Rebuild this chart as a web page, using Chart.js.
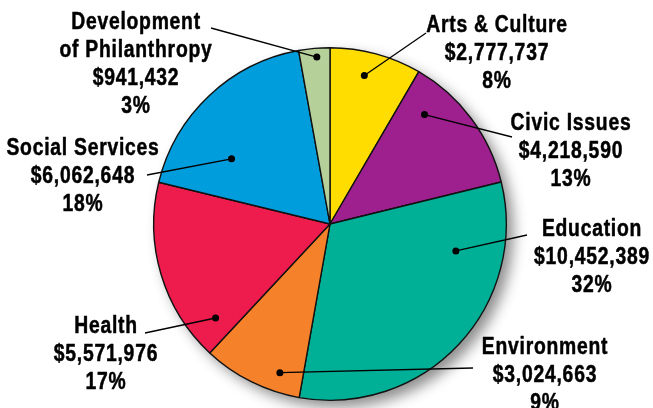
<!DOCTYPE html>
<html>
<head>
<meta charset="utf-8">
<script src="https://cdn.jsdelivr.net/npm/chart.js@4"></script>
<style>
html,body{margin:0;padding:0;background:#fff;}
#wrap{width:653px;height:408px;position:relative;}
</style>
</head>
<body>
<div id="wrap"><canvas id="c" width="653" height="408"></canvas></div>
<script>
const categories = ["Arts & Culture","Civic Issues","Education","Environment","Health","Social Services","Development of Philanthropy"];
const amounts = [2777737, 4218590, 10452389, 3024663, 5571976, 6062648, 941432];
const percentLabels = ["8%","13%","32%","9%","17%","18%","3%"];
const labelLines = [["Arts & Culture"],["Civic Issues"],["Education"],["Environment"],["Health"],["Social Services"],["Development","of Philanthropy"]];
const colors = ["#FFDD00","#9E1F8E","#00B096","#F5822A","#EE1B4D","#009DDC","#B6D09A"];

// label layout: dot placement within slice (t along angle, r fraction of radius),
// text center x, first baseline y, leader end point
const labelLayout = [
  {t:0.43, r:0.865, tx:497, ty:32, lx:426, ly:33},
  {t:0.23, r:0.82,  tx:571, ty:130, lx:512, ly:137},
  {t:0.227,r:0.73,  tx:592, ty:236, lx:527, ly:235},
  {t:0.26, r:0.89,  tx:545, ty:354, lx:473, ly:368},
  {t:0.125,r:0.84,  tx:106, ty:333, lx:145, ly:333},
  {t:0.30, r:0.67,  tx:83,  ty:155, lx:147, ly:175},
  {t:0.56, r:0.95,  tx:136, ty:29,  lx:211, ly:28}
];

function fmtMoney(v){ return "$" + v.toLocaleString("en-US"); }

const labelFont = 'bold 23px "Liberation Sans", Arimo, Arial, sans-serif';
const letterSp = "0.9px";
const hScale = 0.84;

const shadowPlugin = {
  id: "shadow",
  beforeDatasetsDraw(chart){
    const arc = chart.getDatasetMeta(0).data[0];
    if(!arc) return;
    const ctx = chart.ctx;
    ctx.save();
    ctx.shadowColor = "rgba(0,0,0,0.45)";
    ctx.shadowBlur = 14;
    ctx.shadowOffsetX = 7;
    ctx.shadowOffsetY = 7;
    ctx.beginPath();
    ctx.arc(arc.x, arc.y, arc.outerRadius, 0, Math.PI*2);
    ctx.fillStyle = "#fff";
    ctx.fill();
    ctx.restore();
  }
};

const labelPlugin = {
  id: "labels",
  afterDatasetsDraw(chart){
    const ctx = chart.ctx;
    const meta = chart.getDatasetMeta(0);
    meta.data.forEach((arc, i) => {
      const L = labelLayout[i];
      const a = arc.startAngle + (arc.endAngle - arc.startAngle) * L.t;
      const px = arc.x + Math.cos(a) * arc.outerRadius * L.r;
      const py = arc.y + Math.sin(a) * arc.outerRadius * L.r;
      ctx.save();
      ctx.strokeStyle = "#000";
      ctx.lineWidth = 1.3;
      ctx.beginPath();
      ctx.moveTo(px, py);
      ctx.lineTo(L.lx, L.ly);
      ctx.stroke();
      ctx.fillStyle = "#000";
      ctx.beginPath();
      ctx.arc(px, py, 3.5, 0, Math.PI*2);
      ctx.fill();
      const lines = labelLines[i].concat([fmtMoney(amounts[i]), percentLabels[i]]);
      ctx.font = labelFont;
      if ("letterSpacing" in ctx) ctx.letterSpacing = letterSp;
      ctx.textAlign = "center";
      ctx.textBaseline = "alphabetic";
      ctx.lineWidth = 0.5;
      ctx.lineJoin = "round";
      lines.forEach((s, k) => {
        ctx.save();
        ctx.translate(L.tx, L.ty + k*28);
        ctx.scale(hScale, 1);
        ctx.fillText(s, 0, 0);
        ctx.strokeText(s, 0, 0);
        ctx.restore();
      });
      ctx.restore();
    });
  }
};

new Chart(document.getElementById("c"), {
  type: "pie",
  data: {
    labels: categories,
    datasets: [{
      data: amounts,
      backgroundColor: colors,
      borderColor: "#111",
      borderWidth: 1.4,
      hoverOffset: 0
    }]
  },
  options: {
    responsive: false,
    animation: false,
    layout: { padding: { top: 47, bottom: 7, left: 153, right: 146 } },
    plugins: { legend: { display: false }, tooltip: { enabled: false } },
    events: []
  },
  plugins: [shadowPlugin, labelPlugin]
});
</script>
</body>
</html>
